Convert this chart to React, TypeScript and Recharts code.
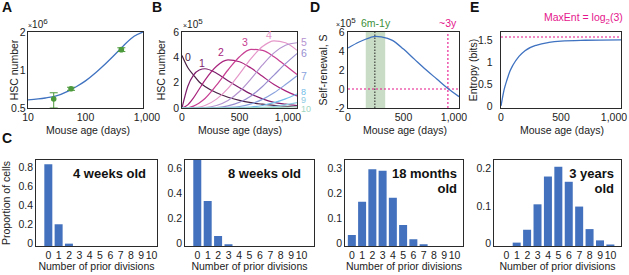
import React from 'react'
import {
  LineChart,
  Line,
  XAxis,
  YAxis,
  ReferenceArea,
  ReferenceLine,
  ComposedChart,
  Scatter,
  ErrorBar,
  BarChart,
  Bar,
} from 'recharts'

const FONT = '"Liberation Sans", Arial, Helvetica, sans-serif'
const INK = '#222'
const BLUE = '#3f72c0'
const BAR_BLUE = '#4371bd'
const GREEN = '#4c9a3c'
const BAND = '#c9dcc5'
const MAGENTA = '#e5158c'
const EDGE = '#2a2a2a'

// ---- A: total HSC number (x1e6) vs age, log-log
const fitAge = [10, 15, 20, 30, 50, 70, 100, 150, 200, 300, 400, 500, 700, 1000]
const fitHsc = [0.58, 0.59, 0.6, 0.62, 0.68, 0.74, 0.82, 0.95, 1.07, 1.28, 1.46, 1.62, 1.85, 2.0]
const obsAge = [28, 56, 420]
const obsHsc = [0.59, 0.71, 1.45]
const obsErrLow = [0.09, 0.02, 0.05]
const obsErrHigh = [0.07, 0.02, 0.05]

// ---- B: HSC number (x1e5) by number of prior divisions
const ageB = [0, 50, 100, 150, 200, 300, 400, 500, 600, 700, 800, 900, 1000]
const div0 = [4.15, 3.2, 2.6, 2.05, 1.7, 1.2, 0.85, 0.6, 0.42, 0.3, 0.2, 0.14, 0.1]
const div1 = [0, 1.7, 2.6, 3.0, 3.1, 2.75, 2.15, 1.6, 1.1, 0.72, 0.45, 0.3, 0.18]
const div2 = [0, 0.25, 0.8, 1.5, 2.2, 3.3, 3.8, 3.65, 3.15, 2.5, 1.85, 1.35, 0.95]
const div3 = [0, 0.02, 0.15, 0.4, 0.75, 1.8, 3.0, 4.05, 4.63, 4.55, 4.05, 3.35, 2.65]
const div4 = [0, 0, 0.02, 0.07, 0.2, 0.7, 1.55, 2.7, 3.9, 4.85, 5.3, 5.15, 4.55]
const div5 = [0, 0, 0, 0.01, 0.03, 0.2, 0.6, 1.3, 2.3, 3.4, 4.35, 4.95, 5.15]
const div6 = [0, 0, 0, 0, 0, 0.04, 0.17, 0.45, 0.95, 1.7, 2.6, 3.5, 4.3]
const div7 = [0, 0, 0, 0, 0, 0.01, 0.04, 0.12, 0.32, 0.68, 1.2, 1.85, 2.55]
const div8 = [0, 0, 0, 0, 0, 0, 0.01, 0.03, 0.08, 0.2, 0.42, 0.72, 1.1]
const div9 = [0, 0, 0, 0, 0, 0, 0, 0.005, 0.02, 0.05, 0.12, 0.25, 0.42]
const div10 = [0, 0, 0, 0, 0, 0, 0, 0, 0.003, 0.01, 0.03, 0.06, 0.12]
const divSeries = [div0, div1, div2, div3, div4, div5, div6, div7, div8, div9, div10]
const divColors = [
  '#4a2146', '#7d1d6b', '#a8237c', '#c73e92', '#e597c9', '#b493cf',
  '#998ed0', '#8aa2dd', '#72bde9', '#8fcbe3', '#9fd6bf',
]

// ---- D: self-renewal S (x1e5)
const ageD = [0, 100, 200, 250, 300, 400, 500, 600, 700, 800, 900, 1000]
const selfRenewal = [4.32, 4.95, 5.42, 5.54, 5.48, 5.12, 4.2, 3.12, 2.05, 1.05, 0.05, -0.8]
const bandStart = 160
const bandEnd = 335
const peakAge = 242
const zeroAge = 900

// ---- E: entropy (bits)
const ageE = [0, 10, 25, 50, 75, 100, 150, 200, 300, 400, 500, 700, 1000]
const entropy = [0, 0.15, 0.36, 0.6, 0.8, 0.94, 1.14, 1.27, 1.4, 1.46, 1.49, 1.51, 1.52]
const maxEnt = 1.585

// ---- C: proportion of cells by number of prior divisions
const divisions = [0, 1, 2, 3, 4, 5, 6, 7, 8, 9, 10]
const weeks4 = [0.865, 0.23, 0.025, 0, 0, 0, 0, 0, 0, 0, 0]
const weeks8 = [0.69, 0.36, 0.08, 0.014, 0, 0, 0, 0, 0, 0, 0]
const months18 = [0.044, 0.177, 0.307, 0.301, 0.193, 0.084, 0.027, 0.007, 0, 0, 0]
const years3 = [0, 0.009, 0.043, 0.111, 0.185, 0.211, 0.171, 0.105, 0.045, 0.015, 0.004]

type Box = { x: number; y: number; w: number; h: number }
const PAD_L = 30
const PAD_T = 10
const PAD_R = 22
const PAD_B = 20

const boxA: Box = { x: 28, y: 32, w: 115, h: 76 }
const boxB: Box = { x: 182, y: 32, w: 115, h: 76 }
const boxD: Box = { x: 348, y: 32, w: 111, h: 76 }
const boxE: Box = { x: 501, y: 32, w: 120, h: 76 }

const histPanels = [
  { box: { x: 36, y: 160, w: 121, h: 86 }, values: weeks4, xDom: [-1.21, 10.53], yTop: 0.91, yTicks: [0, 0.2, 0.4, 0.6, 0.8] },
  { box: { x: 185, y: 160, w: 129, h: 86 }, values: weeks8, xDom: [-1.2, 11.2], yTop: 0.688, yTicks: [0, 0.2, 0.4, 0.6] },
  { box: { x: 345, y: 160, w: 118, h: 86 }, values: months18, xDom: [-0.68, 10.83], yTop: 0.344, yTicks: [0, 0.1, 0.2, 0.3] },
  { box: { x: 494, y: 160, w: 127, h: 86 }, values: years3, xDom: [-1.2, 11], yTop: 0.229, yTicks: [0, 0.1, 0.2] },
]

const allBoxes = [boxA, boxB, boxD, boxE, ...histPanels.map((h) => h.box)]

const sizeOf = (b: Box) => ({
  width: b.w + PAD_L + PAD_R,
  height: b.h + PAD_T + PAD_B,
  margin: { top: PAD_T, right: PAD_R, bottom: 0, left: 0 },
})

function Place({ box, children }: { box: Box; children: React.ReactNode }) {
  return (
    <div style={{ position: 'absolute', left: box.x - PAD_L, top: box.y - PAD_T }}>
      {children}
    </div>
  )
}

const fmtNum = (v: number) => (v >= 1000 ? v.toLocaleString('en-US') : String(v))

const yTick = (gap = 3, lift = 0) => (p: any) => (
  <text x={p.x - gap} y={p.y - lift + 3.7} textAnchor="end" fontSize={10.5} fill={INK} fontFamily={FONT}>
    {fmtNum(p.payload.value)}
  </text>
)

// lastDx nudges the wide "1,000" label the way the original does
const xTick = (drop = 13.2, lastDx = 0) => (p: any) => (
  <text x={p.x + (p.payload.value >= 1000 ? lastDx : 0)} y={p.y + drop} textAnchor="middle"
    fontSize={10.5} fill={INK} fontFamily={FONT}>
    {fmtNum(p.payload.value)}
  </text>
)

const axisBits = {
  axisLine: false,
  tickLine: false,
  tickSize: 0,
  tickMargin: 0,
  interval: 0 as const,
}

function PanelA() {
  const fit = fitAge.map((x, i) => ({ x, y: fitHsc[i] }))
  const obs = obsAge.map((x, i) => ({ x, y: obsHsc[i], err: [obsErrLow[i], obsErrHigh[i]] }))
  return (
    <Place box={boxA}>
      <ComposedChart {...sizeOf(boxA)}>
        <XAxis dataKey="x" type="number" scale="log" domain={[10, 1000]} ticks={[10, 100, 1000]}
          allowDataOverflow height={PAD_B} {...axisBits} tick={xTick(13.2, 4)} />
        <YAxis dataKey="y" type="number" scale="log" domain={[0.5, 2]} ticks={[0.5, 1, 2]}
          allowDataOverflow width={PAD_L} {...axisBits} tick={yTick(2.3)} />
        <Line data={fit} dataKey="y" type="monotone" stroke={BLUE} strokeWidth={1.3} dot={false} isAnimationActive={false} />
        <Scatter data={obs} dataKey="y" fill={GREEN} isAnimationActive={false}
          shape={(p: any) => <circle cx={p.cx} cy={p.cy} r={2.8} fill={GREEN} />}>
          <ErrorBar dataKey="err" direction="y" width={4} stroke={GREEN} strokeWidth={1} />
        </Scatter>
      </ComposedChart>
    </Place>
  )
}

function PanelB() {
  const rows = ageB.map((t, i) => {
    const row: Record<string, number> = { t }
    divSeries.forEach((s, k) => (row[`d${k}`] = s[i]))
    return row
  })
  return (
    <Place box={boxB}>
      <LineChart data={rows} {...sizeOf(boxB)}>
        <XAxis dataKey="t" type="number" domain={[0, 1000]} ticks={[0, 500, 1000]}
          height={PAD_B} {...axisBits} tick={xTick(13.2, -9)} />
        <YAxis type="number" domain={[0, 6]} ticks={[0, 2, 4, 6]}
          width={PAD_L} {...axisBits} tick={yTick(3)} />
        {divSeries.map((_, k) => (
          <Line key={k} dataKey={`d${k}`} type="monotone" stroke={divColors[k]} strokeWidth={1.2}
            dot={false} isAnimationActive={false} />
        ))}
      </LineChart>
    </Place>
  )
}

function PanelD() {
  const rows = ageD.map((t, i) => ({ t, s: selfRenewal[i] }))
  return (
    <Place box={boxD}>
      <LineChart data={rows} {...sizeOf(boxD)}>
        <ReferenceArea x1={bandStart} x2={bandEnd} y1={-2} y2={6} fill={BAND} fillOpacity={1} stroke="none" />
        <XAxis dataKey="t" type="number" domain={[0, 1000]} ticks={[0, 500, 1000]}
          height={PAD_B} {...axisBits} tick={xTick(13.2, -5)} />
        <YAxis type="number" domain={[-2, 6]} ticks={[-2, 0, 2, 4, 6]}
          width={PAD_L} {...axisBits} tick={yTick(3.3)} />
        <ReferenceLine y={0} stroke={MAGENTA} strokeDasharray="2 2" strokeWidth={1.1} />
        <ReferenceLine x={peakAge} stroke="#222" strokeDasharray="1.5 1.5" strokeWidth={1} />
        <ReferenceLine x={zeroAge} stroke={MAGENTA} strokeDasharray="2 2" strokeWidth={1.1} />
        <Line dataKey="s" type="monotone" stroke={BLUE} strokeWidth={1.3} dot={false} isAnimationActive={false} />
      </LineChart>
    </Place>
  )
}

function PanelE() {
  const rows = ageE.map((t, i) => ({ t, h: entropy[i] }))
  return (
    <Place box={boxE}>
      <LineChart data={rows} {...sizeOf(boxE)}>
        <XAxis dataKey="t" type="number" domain={[0, 1000]} ticks={[0, 500, 1000]}
          height={PAD_B} {...axisBits} tick={xTick(13.2, -7)} />
        <YAxis type="number" domain={[-0.05, 1.7]} ticks={[0, 0.5, 1, 1.5]} allowDataOverflow
          width={PAD_L} {...axisBits} tick={yTick(8.5)} />
        <ReferenceLine y={maxEnt} stroke={MAGENTA} strokeDasharray="2 2" strokeWidth={1.1} />
        <Line dataKey="h" type="monotone" stroke={BLUE} strokeWidth={1.3} dot={false} isAnimationActive={false} />
      </LineChart>
    </Place>
  )
}

function Histogram({ box, values, xDom, yTop, yTicks }: (typeof histPanels)[number]) {
  const rows = divisions.map((k, i) => ({ k, p: values[i] }))
  return (
    <Place box={box}>
      <BarChart data={rows} {...sizeOf(box)}>
        <XAxis dataKey="k" type="number" domain={xDom} ticks={divisions} allowDataOverflow
          height={PAD_B} {...axisBits} tick={xTick(13)} />
        <YAxis type="number" domain={[0, yTop]} ticks={yTicks} allowDataOverflow
          width={PAD_L} {...axisBits} tick={yTick(3, 2.6)} />
        <Bar dataKey="p" fill={BAR_BLUE} barSize={8} isAnimationActive={false} />
      </BarChart>
    </Place>
  )
}

const T = (p: any) => <text fontFamily={FONT} fontSize={10.5} fill={INK} {...p} />
const Letter = ({ x, y, c }: { x: number; y: number; c: string }) => (
  <text x={x} y={y} fontFamily={FONT} fontSize={14} fontWeight="bold" fill="#111">{c}</text>
)
const VTitle = ({ x, y, c }: { x: number; y: number; c: string }) => (
  <T transform={`translate(${x},${y}) rotate(-90)`} textAnchor="middle">{c}</T>
)
const Scale = ({ x, y, p }: { x: number; y: number; p: string }) => (
  <T x={x} y={y} fontSize={10}>
    <tspan fontSize={7}>×</tspan>10<tspan dy={-4} fontSize={8}>{p}</tspan>
  </T>
)

const bLabels = [
  { c: '0', x: 188, y: 60.5, a: 'middle', s: 10.5 },
  { c: '1', x: 202, y: 67, a: 'middle', s: 10.5 },
  { c: '2', x: 221, y: 56, a: 'middle', s: 10.5 },
  { c: '3', x: 245, y: 45.5, a: 'middle', s: 10.5 },
  { c: '4', x: 269, y: 39, a: 'middle', s: 10.5 },
  { c: '5', x: 301, y: 45.5, a: 'start', s: 10.5 },
  { c: '6', x: 301, y: 57, a: 'start', s: 10.5 },
  { c: '7', x: 301, y: 79.5, a: 'start', s: 10.5 },
  { c: '8', x: 301, y: 94.5, a: 'start', s: 9 },
  { c: '9', x: 301, y: 103, a: 'start', s: 9 },
  { c: '10', x: 301, y: 111.5, a: 'start', s: 9 },
]

const histTitles = [
  { lines: ['4 weeks old'], x: 146 },
  { lines: ['8 weeks old'], x: 301 },
  { lines: ['18 months', 'old'], x: 457 },
  { lines: ['3 years', 'old'], x: 614 },
]

// axes boxes as plain bordered divs over the plot areas
function Frames() {
  return (
    <>
      {allBoxes.map((b, i) => (
        <div key={i} style={{
          position: 'absolute', left: b.x - 1, top: b.y - 1, width: b.w, height: b.h,
          border: `1px solid ${EDGE}`, boxSizing: 'content-box', pointerEvents: 'none',
        }} />
      ))}
    </>
  )
}

function Annotations() {
  return (
    <svg width={629} height={275} style={{ position: 'absolute', left: 0, top: 0, pointerEvents: 'none' }}>
      <Letter x={2} y={11.5} c="A" />
      <Letter x={152} y={11.5} c="B" />
      <Letter x={310} y={11.5} c="D" />
      <Letter x={470} y={11.5} c="E" />
      <Letter x={2} y={142.5} c="C" />

      <Scale x={28} y={27.5} p="6" />
      <Scale x={183} y={27.5} p="5" />
      <Scale x={336} y={26.5} p="5" />

      <VTitle x={18} y={70} c="HSC number" />
      <VTitle x={165} y={70} c="HSC number" />
      <VTitle x={327} y={70} c="Self-renewal, S" />
      <VTitle x={477} y={70} c="Entropy (bits)" />
      <VTitle x={9.5} y={203} c="Proportion of cells" />

      <T x={88} y={133.5} textAnchor="middle">Mouse age (days)</T>
      <T x={240} y={133.5} textAnchor="middle">Mouse age (days)</T>
      <T x={405} y={133.5} textAnchor="middle">Mouse age (days)</T>
      <T x={562} y={133.5} textAnchor="middle">Mouse age (days)</T>
      {histPanels.map((h, i) => (
        <T key={i} x={h.box.x + h.box.w / 2} y={269.5} textAnchor="middle">Number of prior divisions</T>
      ))}

      {bLabels.map((l) => (
        <T key={l.c} x={l.x} y={l.y} textAnchor={l.a} fontSize={l.s} fill={divColors[Number(l.c)]}>{l.c}</T>
      ))}

      <T x={361} y={27} fill="#3d8f3a">6m-1y</T>
      <T x={439} y={27} fill={MAGENTA}>~3y</T>
      <T x={544} y={21} fill={MAGENTA}>
        MaxEnt = log<tspan dy={3} fontSize={8}>2</tspan><tspan dy={-3}>(3)</tspan>
      </T>

      {histTitles.map((h, i) =>
        h.lines.map((line, j) => (
          <text key={`${i}-${j}`} x={h.x} y={177.5 + j * 15} textAnchor="end" fontFamily={FONT}
            fontSize={13} fontWeight="bold" fill="#111">{line}</text>
        ))
      )}
    </svg>
  )
}

export default function App() {
  return (
    <div style={{ position: 'absolute', left: 0, top: 0, width: 629, height: 275, background: '#fff', fontFamily: FONT, overflow: 'hidden' }}>
      <PanelA />
      <PanelB />
      <PanelD />
      <PanelE />
      {histPanels.map((h, i) => (
        <Histogram key={i} {...h} />
      ))}
      <Frames />
      <Annotations />
    </div>
  )
}
